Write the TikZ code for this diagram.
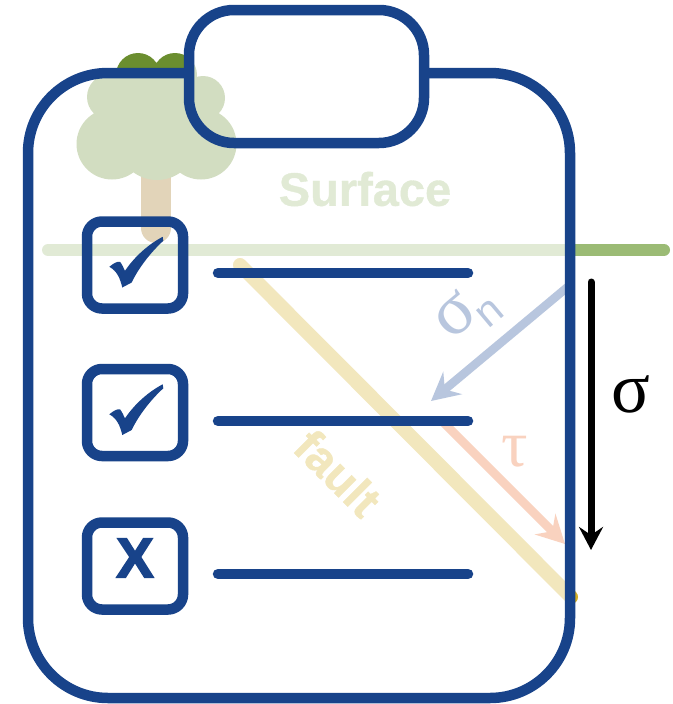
\documentclass[tikz,border=0pt]{standalone}
\usepackage{fontspec}
\setmainfont{Liberation Sans}
\newfontfamily\greekfont{Liberation Serif}
\newfontfamily\heavyfont[FakeBold=3]{Liberation Sans Bold}
\newfontfamily\labelfont[FakeBold=0.8]{Liberation Sans Bold}
\usetikzlibrary{arrows.meta}
\definecolor{boardblue}{HTML}{18438A}
\definecolor{leaf}{HTML}{6B8E2F}
\definecolor{bark}{HTML}{9E7016}
\definecolor{ground}{HTML}{9BBB75}
\definecolor{faultgold}{HTML}{D4AF23}
\definecolor{normalblue}{HTML}{124191}
\definecolor{shearred}{HTML}{ED692A}
\tikzset{
  crown/.style={fill=leaf,draw=none},
  tickbox/.style={draw=boardblue,line width=10.5pt,rounded corners=15pt,minimum width=96pt,minimum height=87pt,inner sep=0pt},
  rowline/.style={draw=boardblue,line width=10.5pt,line cap=round},
  boardline/.style={draw=boardblue,line width=10.5pt},
  tick/.pic={\fill[boardblue] (-25.7,1.8) .. controls (-21,-2) and (-18,-3.6) .. (-15,-3.2)
      .. controls (-13,-1) and (-11.5,3) .. (-10,5.8)
      .. controls (0,-9) and (14,-21) .. (27.7,-28.2) -- (28.3,-24.2)
      .. controls (15,-12) and (3,4) .. (-3.3,17.5) -- (-12.7,22.5)
      .. controls (-15,13) and (-18,6) .. cycle;}
}
\begin{document}
\begin{tikzpicture}[x=1pt,y=-1pt]
\useasboundingbox (0,0) rectangle (672,704);
% tree
\draw[bark,line width=30pt,line cap=round] (156,170) -- (156,228);
\fill[crown] (138,75) circle (22) (175,75) circle (22) (110,97) circle (23) (203,98) circle (22)
  (112,144) circle (35.5) (201,144) circle (35.5) (157,140) circle (40) (157,105) circle (42);
% ground and fault
\coordinate (groundL) at (48,250);
\coordinate (groundR) at (664,250);
\draw[ground,line width=12pt,line cap=round] (groundL) -- (groundR);
\coordinate (faultT) at (240,265);
\coordinate (faultB) at (571,597);
\draw[faultgold,line width=14pt,line cap=round] (faultT) -- (faultB);
% stress components on the fault
\coordinate (normalA) at (570,285);
\coordinate (normalB) at (431,401);
\draw[normalblue,line width=8.5pt,-{Stealth[length=28pt,width=29pt,inset=10pt]}] (normalA) -- (normalB);
\coordinate (shearA) at (441,420);
\coordinate (shearB) at (565,544);
\draw[shearred,line width=8.5pt,-{Stealth[length=28pt,width=29pt,inset=10pt]}] (shearA) -- (shearB);
\node[text=normalblue,rotate=40,font=\greekfont\fontsize{72}{72}\selectfont] (signormal) at (455,315) {σ};
\node[text=normalblue,rotate=40,font=\fontsize{42}{42}\selectfont] (subn) at (490,313) {n};
\node[text=shearred,font=\greekfont\fontsize{66}{66}\selectfont] (tau) at (515,452) {τ};
\node[text=faultgold,rotate=-45,font=\labelfont\fontsize{47}{47}\selectfont] (faultlabel) at (338,473) {fault};
\node[text=ground,font=\labelfont\fontsize{47}{47}\selectfont] (surface) at (365,189) {Surface};
% white veil over board and clip
\fill[white,fill opacity=.7,rounded corners=80pt] (28,73) rectangle (570,698)
  {[rounded corners=45pt] (189,10) rectangle (424,143)};
% board outline
\draw[boardline,rounded corners=80pt] (189,73) -- (28,73) -- (28,698) -- (570,698) -- (570,73) -- (424,73);
\draw[boardline,rounded corners=45pt] (189,10) rectangle (424,143);
% checklist rows
\node[tickbox] (box1) at (135,265) {};
\node[tickbox] (box2) at (135,412.5) {};
\node[tickbox] (box3) at (135,566) {};
\node[text=boardblue,font=\heavyfont\fontsize{56}{56}\selectfont] (cross) at (135,558) {X};
\pic at (box1.center) {tick};
\pic at (box2.center) {tick};
\coordinate (row1a) at (218,273); \coordinate (row1b) at (468,273);
\coordinate (row2a) at (218,421); \coordinate (row2b) at (468,421);
\coordinate (row3a) at (218,574); \coordinate (row3b) at (468,574);
\draw[rowline] (row1a) -- (row1b);
\draw[rowline] (row2a) -- (row2b);
\draw[rowline] (row3a) -- (row3b);
% vertical stress
\coordinate (sigA) at (591,282);
\coordinate (sigB) at (591,550);
\draw[black,line width=7pt,line cap=round,-{Stealth[length=23pt,width=24pt,inset=8pt]}] (sigA) -- (sigB);
\node[text=black,font=\greekfont\fontsize{72}{72}\selectfont] (sigma) at (631,394) {σ};
\end{tikzpicture}
\end{document}
